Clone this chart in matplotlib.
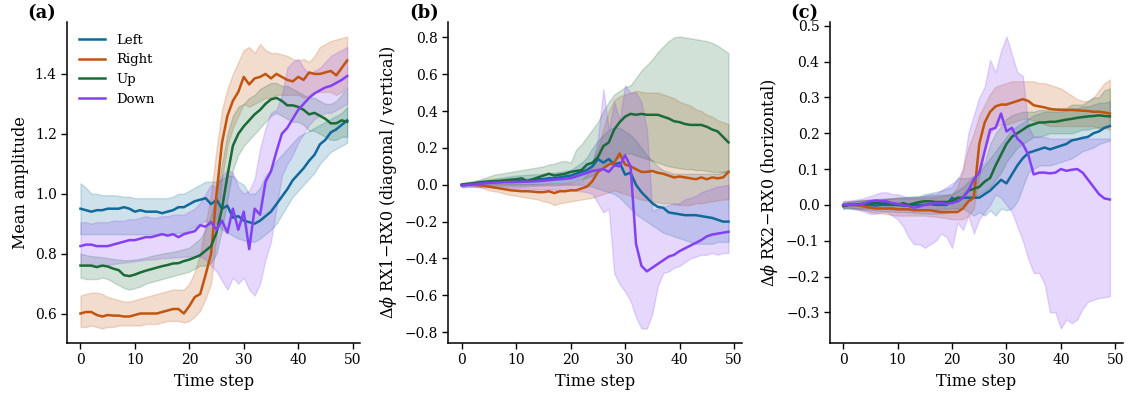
import numpy as np
import matplotlib
matplotlib.use('Agg')
import matplotlib.pyplot as plt

plt.rcParams['font.family'] = ['DejaVu Serif']
plt.rcParams['mathtext.fontset'] = 'dejavuserif'

steps = np.arange(50)
labels = ['Left', 'Right', 'Up', 'Down']
colors = ['#11699b', '#c1540e', '#1b6b38', '#8440f5']

# (a) mean amplitude
amp_left = [0.950, 0.945, 0.940, 0.945, 0.945, 0.950, 0.950, 0.950, 0.955, 0.950,
            0.940, 0.945, 0.940, 0.940, 0.940, 0.935, 0.940, 0.945, 0.955, 0.955,
            0.965, 0.975, 0.980, 0.985, 0.965, 0.980, 0.950, 0.960, 0.920, 0.925,
            0.910, 0.905, 0.900, 0.910, 0.925, 0.940, 0.965, 0.990, 1.015, 1.045,
            1.065, 1.085, 1.110, 1.130, 1.165, 1.180, 1.205, 1.215, 1.230, 1.245]
amp_left_lo = [0.865, 0.865, 0.865, 0.865, 0.865, 0.865, 0.865, 0.865, 0.865, 0.865,
               0.865, 0.865, 0.865, 0.865, 0.865, 0.865, 0.865, 0.865, 0.870, 0.870,
               0.880, 0.890, 0.900, 0.910, 0.900, 0.900, 0.880, 0.870, 0.860, 0.850,
               0.845, 0.840, 0.840, 0.850, 0.865, 0.880, 0.900, 0.930, 0.960, 0.990,
               1.010, 1.030, 1.050, 1.070, 1.100, 1.120, 1.140, 1.150, 1.160, 1.170]
amp_left_hi = [1.035, 1.020, 1.000, 1.000, 0.995, 0.995, 0.995, 0.993, 0.990, 0.990,
               0.985, 0.985, 0.985, 0.985, 0.985, 0.985, 0.985, 0.990, 1.000, 1.000,
               1.010, 1.020, 1.030, 1.040, 1.040, 1.040, 1.050, 1.060, 1.060, 1.040,
               1.030, 1.000, 1.000, 1.020, 1.060, 1.080, 1.110, 1.130, 1.150, 1.170,
               1.190, 1.200, 1.210, 1.220, 1.230, 1.240, 1.250, 1.260, 1.270, 1.290]
amp_right = [0.600, 0.605, 0.605, 0.595, 0.590, 0.595, 0.593, 0.593, 0.590, 0.590,
             0.595, 0.600, 0.600, 0.600, 0.600, 0.605, 0.610, 0.615, 0.615, 0.600,
             0.625, 0.655, 0.665, 0.730, 0.800, 1.000, 1.170, 1.260, 1.310, 1.340,
             1.390, 1.365, 1.385, 1.390, 1.400, 1.385, 1.400, 1.390, 1.380, 1.375,
             1.390, 1.380, 1.405, 1.400, 1.400, 1.405, 1.410, 1.395, 1.420, 1.445]
amp_right_lo = [0.555, 0.555, 0.560, 0.555, 0.550, 0.555, 0.555, 0.560, 0.560, 0.560,
                0.560, 0.560, 0.565, 0.565, 0.565, 0.570, 0.575, 0.575, 0.575, 0.570,
                0.575, 0.590, 0.610, 0.650, 0.700, 0.860, 1.050, 1.160, 1.220, 1.260,
                1.300, 1.290, 1.300, 1.310, 1.320, 1.320, 1.330, 1.330, 1.330, 1.330,
                1.330, 1.320, 1.330, 1.340, 1.340, 1.340, 1.340, 1.330, 1.340, 1.370]
amp_right_hi = [0.660, 0.665, 0.670, 0.670, 0.665, 0.655, 0.650, 0.645, 0.640, 0.640,
                0.645, 0.650, 0.655, 0.660, 0.665, 0.670, 0.675, 0.680, 0.680, 0.680,
                0.700, 0.740, 0.800, 0.900, 1.000, 1.150, 1.280, 1.350, 1.400, 1.440,
                1.480, 1.490, 1.470, 1.500, 1.480, 1.470, 1.470, 1.465, 1.460, 1.450,
                1.445, 1.450, 1.440, 1.460, 1.490, 1.500, 1.510, 1.515, 1.520, 1.525]
amp_up = [0.760, 0.760, 0.760, 0.755, 0.760, 0.757, 0.750, 0.745, 0.728, 0.725,
          0.730, 0.737, 0.743, 0.748, 0.753, 0.758, 0.762, 0.767, 0.768, 0.775,
          0.780, 0.787, 0.795, 0.810, 0.825, 0.870, 0.950, 1.060, 1.160, 1.200,
          1.225, 1.245, 1.265, 1.280, 1.300, 1.315, 1.320, 1.310, 1.295, 1.295,
          1.290, 1.280, 1.265, 1.270, 1.260, 1.250, 1.235, 1.235, 1.245, 1.240]
amp_up_lo = [0.720, 0.715, 0.715, 0.715, 0.720, 0.715, 0.705, 0.695, 0.685, 0.680,
             0.685, 0.690, 0.700, 0.705, 0.710, 0.715, 0.720, 0.725, 0.730, 0.735,
             0.740, 0.750, 0.760, 0.760, 0.770, 0.800, 0.880, 0.980, 1.080, 1.130,
             1.160, 1.180, 1.200, 1.220, 1.240, 1.260, 1.270, 1.260, 1.250, 1.240,
             1.240, 1.230, 1.210, 1.210, 1.200, 1.190, 1.180, 1.180, 1.190, 1.190]
amp_up_hi = [0.800, 0.795, 0.792, 0.790, 0.788, 0.785, 0.782, 0.780, 0.778, 0.778,
             0.780, 0.783, 0.787, 0.792, 0.796, 0.800, 0.803, 0.806, 0.810, 0.815,
             0.820, 0.835, 0.850, 0.880, 0.930, 1.000, 1.100, 1.200, 1.260, 1.290,
             1.300, 1.320, 1.330, 1.350, 1.360, 1.370, 1.370, 1.360, 1.360, 1.350,
             1.340, 1.330, 1.320, 1.320, 1.310, 1.300, 1.300, 1.310, 1.330, 1.360]
amp_down = [0.825, 0.830, 0.830, 0.825, 0.825, 0.825, 0.830, 0.835, 0.840, 0.845,
            0.845, 0.850, 0.855, 0.855, 0.860, 0.865, 0.860, 0.865, 0.855, 0.865,
            0.870, 0.875, 0.895, 0.890, 0.905, 0.880, 0.910, 0.870, 0.950, 0.880,
            0.940, 0.815, 0.950, 0.930, 1.040, 1.075, 1.140, 1.200, 1.220, 1.250,
            1.280, 1.300, 1.320, 1.335, 1.345, 1.355, 1.360, 1.370, 1.380, 1.393]
amp_down_lo = [0.760, 0.760, 0.758, 0.758, 0.760, 0.762, 0.765, 0.768, 0.770, 0.772,
               0.775, 0.777, 0.780, 0.780, 0.782, 0.785, 0.785, 0.787, 0.788, 0.790,
               0.790, 0.790, 0.790, 0.780, 0.760, 0.740, 0.710, 0.680, 0.720, 0.700,
               0.720, 0.680, 0.660, 0.700, 0.780, 0.840, 0.950, 1.060, 1.100, 1.130,
               1.170, 1.200, 1.230, 1.250, 1.260, 1.270, 1.270, 1.280, 1.290, 1.300]
amp_down_hi = [0.905, 0.905, 0.900, 0.905, 0.905, 0.905, 0.910, 0.910, 0.910, 0.915,
               0.915, 0.920, 0.925, 0.920, 0.920, 0.925, 0.925, 0.930, 0.930, 0.930,
               0.940, 0.950, 0.970, 1.000, 1.030, 1.020, 1.060, 1.080, 1.070, 1.020,
               1.000, 1.010, 1.050, 1.150, 1.220, 1.270, 1.280, 1.330, 1.420, 1.440,
               1.450, 1.420, 1.400, 1.410, 1.420, 1.440, 1.460, 1.470, 1.480, 1.490]

# (b) phase difference RX1 - RX0
ph1_left = [0.000, 0.000, 0.005, 0.008, 0.010, 0.012, 0.015, 0.017, 0.020, 0.020,
            0.020, 0.020, 0.020, 0.025, 0.030, 0.030, 0.035, 0.035, 0.040, 0.045,
            0.050, 0.060, 0.070, 0.080, 0.100, 0.140, 0.120, 0.140, 0.110, 0.120,
            0.055, 0.065, 0.000, -0.040, -0.070, -0.100, -0.120, -0.125, -0.150, -0.155,
            -0.160, -0.165, -0.165, -0.165, -0.170, -0.175, -0.180, -0.190, -0.200, -0.200]
ph1_left_lo = [-0.010, -0.010, -0.010, -0.010, -0.010, -0.010, -0.010, -0.010, -0.010, -0.010,
               -0.010, -0.010, -0.008, -0.006, -0.005, -0.004, -0.003, -0.002, -0.001, 0.000,
               0.000, 0.000, 0.000, -0.005, -0.010, -0.020, -0.030, -0.040, -0.050, -0.070,
               -0.100, -0.130, -0.160, -0.180, -0.200, -0.220, -0.240, -0.260, -0.270, -0.280,
               -0.290, -0.300, -0.310, -0.320, -0.320, -0.320, -0.320, -0.310, -0.310, -0.310]
ph1_left_hi = [0.010, 0.015, 0.020, 0.024, 0.027, 0.030, 0.034, 0.038, 0.042, 0.046,
               0.050, 0.052, 0.054, 0.056, 0.058, 0.060, 0.063, 0.066, 0.070, 0.075,
               0.080, 0.100, 0.120, 0.150, 0.200, 0.240, 0.270, 0.300, 0.310, 0.310,
               0.290, 0.270, 0.240, 0.200, 0.160, 0.130, 0.100, 0.080, 0.070, 0.060,
               0.060, 0.060, 0.060, 0.060, 0.060, 0.060, 0.060, 0.060, 0.070, 0.080]
ph1_right = [0.000, 0.000, 0.000, -0.002, -0.005, -0.010, -0.015, -0.020, -0.025, -0.030,
             -0.032, -0.035, -0.035, -0.037, -0.040, -0.040, -0.035, -0.045, -0.035, -0.035,
             -0.030, -0.030, -0.020, -0.010, 0.020, 0.070, 0.090, 0.110, 0.120, 0.170,
             0.110, 0.100, 0.085, 0.070, 0.070, 0.075, 0.065, 0.060, 0.050, 0.040,
             0.045, 0.040, 0.035, 0.030, 0.040, 0.030, 0.040, 0.035, 0.040, 0.070]
ph1_right_lo = [0.000, -0.003, -0.006, -0.010, -0.020, -0.030, -0.035, -0.040, -0.050, -0.055,
                -0.060, -0.065, -0.070, -0.075, -0.080, -0.090, -0.095, -0.110, -0.100, -0.095,
                -0.090, -0.085, -0.080, -0.075, -0.070, -0.060, -0.050, -0.040, -0.030, -0.040,
                -0.050, -0.060, -0.070, -0.080, -0.085, -0.090, -0.095, -0.100, -0.100, -0.105,
                -0.110, -0.110, -0.110, -0.100, -0.100, -0.095, -0.090, -0.085, -0.080, -0.080]
ph1_right_hi = [0.005, 0.005, 0.006, 0.007, 0.008, 0.008, 0.008, 0.008, 0.008, 0.008,
                0.006, 0.005, 0.004, 0.003, 0.002, 0.002, 0.003, 0.002, 0.003, 0.004,
                0.005, 0.010, 0.020, 0.060, 0.120, 0.200, 0.300, 0.400, 0.460, 0.480,
                0.490, 0.500, 0.510, 0.505, 0.500, 0.500, 0.500, 0.490, 0.480, 0.470,
                0.450, 0.440, 0.430, 0.410, 0.400, 0.380, 0.370, 0.350, 0.340, 0.330]
ph1_up = [0.000, 0.005, 0.008, 0.012, 0.015, 0.018, 0.020, 0.022, 0.025, 0.028,
          0.030, 0.035, 0.020, 0.030, 0.040, 0.050, 0.060, 0.050, 0.055, 0.060,
          0.070, 0.075, 0.080, 0.110, 0.120, 0.150, 0.210, 0.230, 0.300, 0.340,
          0.370, 0.385, 0.380, 0.385, 0.380, 0.380, 0.380, 0.370, 0.360, 0.345,
          0.340, 0.330, 0.325, 0.325, 0.325, 0.315, 0.300, 0.290, 0.260, 0.230]
ph1_up_lo = [-0.010, -0.005, 0.000, 0.000, 0.000, 0.000, 0.000, 0.000, 0.000, 0.000,
             0.000, 0.001, 0.002, 0.003, 0.004, 0.005, 0.006, 0.007, 0.008, 0.009,
             0.010, 0.020, 0.030, 0.040, 0.050, 0.070, 0.090, 0.110, 0.130, 0.150,
             0.170, 0.170, 0.160, 0.150, 0.140, 0.130, 0.120, 0.110, 0.100, 0.095,
             0.090, 0.085, 0.085, 0.080, 0.080, 0.075, 0.070, 0.070, 0.070, 0.070]
ph1_up_hi = [0.010, 0.010, 0.015, 0.025, 0.035, 0.045, 0.055, 0.060, 0.065, 0.070,
             0.075, 0.080, 0.085, 0.090, 0.095, 0.100, 0.110, 0.115, 0.125, 0.130,
             0.120, 0.190, 0.220, 0.260, 0.300, 0.340, 0.400, 0.450, 0.490, 0.510,
             0.530, 0.540, 0.580, 0.620, 0.650, 0.680, 0.720, 0.750, 0.780, 0.800,
             0.805, 0.800, 0.795, 0.790, 0.785, 0.780, 0.770, 0.755, 0.735, 0.715]
ph1_down = [-0.005, 0.000, 0.002, 0.005, 0.008, 0.010, 0.012, 0.013, 0.015, 0.015,
            0.015, 0.016, 0.017, 0.018, 0.020, 0.022, 0.025, 0.028, 0.030, 0.033,
            0.036, 0.045, 0.055, 0.065, 0.075, 0.080, 0.085, 0.070, 0.105, 0.100,
            0.160, 0.100, -0.320, -0.440, -0.470, -0.450, -0.430, -0.410, -0.390, -0.380,
            -0.360, -0.345, -0.330, -0.315, -0.300, -0.280, -0.270, -0.265, -0.260, -0.255]
ph1_down_lo = [-0.015, -0.012, -0.012, -0.013, -0.014, -0.015, -0.016, -0.017, -0.018, -0.019,
               -0.020, -0.021, -0.022, -0.023, -0.024, -0.025, -0.026, -0.027, -0.028, -0.029,
               -0.030, -0.033, -0.036, -0.040, -0.050, -0.100, -0.150, -0.130, -0.480, -0.540,
               -0.580, -0.630, -0.720, -0.780, -0.780, -0.700, -0.550, -0.480, -0.470, -0.450,
               -0.440, -0.420, -0.400, -0.390, -0.380, -0.380, -0.370, -0.380, -0.370, -0.370]
ph1_down_hi = [0.005, 0.010, 0.012, 0.015, 0.018, 0.020, 0.022, 0.024, 0.026, 0.028,
               0.030, 0.032, 0.034, 0.036, 0.038, 0.040, 0.043, 0.046, 0.049, 0.052,
               0.055, 0.065, 0.080, 0.100, 0.120, 0.250, 0.520, 0.300, 0.450, 0.350,
               0.540, 0.500, 0.500, 0.450, 0.300, -0.140, -0.130, -0.120, -0.110, -0.100,
               -0.100, -0.080, -0.070, -0.060, -0.040, -0.030, -0.020, -0.010, -0.005, 0.000]

# (c) phase difference RX2 - RX0
ph2_left = [-0.003, 0.000, 0.000, 0.000, 0.000, 0.000, -0.002, 0.000, 0.000, 0.000,
            0.000, -0.002, -0.002, 0.000, 0.000, 0.000, 0.002, 0.000, 0.000, 0.000,
            0.020, 0.010, 0.020, 0.020, 0.020, 0.020, 0.030, 0.040, 0.055, 0.070,
            0.060, 0.085, 0.110, 0.130, 0.145, 0.150, 0.155, 0.160, 0.155, 0.160,
            0.165, 0.170, 0.180, 0.183, 0.187, 0.190, 0.200, 0.205, 0.215, 0.220]
ph2_left_lo = [-0.010, -0.010, -0.012, -0.013, -0.014, -0.015, -0.016, -0.017, -0.018, -0.019,
               -0.020, -0.020, -0.021, -0.022, -0.023, -0.024, -0.025, -0.025, -0.024, -0.022,
               -0.020, -0.010, -0.010, -0.020, -0.030, -0.020, -0.030, -0.015, -0.030, -0.010,
               -0.015, -0.010, 0.010, 0.050, 0.090, 0.100, 0.110, 0.110, 0.110, 0.115,
               0.120, 0.125, 0.130, 0.140, 0.150, 0.155, 0.160, 0.170, 0.175, 0.180]
ph2_left_hi = [0.010, 0.010, 0.011, 0.012, 0.013, 0.014, 0.015, 0.016, 0.017, 0.018,
               0.020, 0.021, 0.022, 0.023, 0.024, 0.030, 0.033, 0.036, 0.040, 0.045,
               0.050, 0.075, 0.075, 0.075, 0.080, 0.090, 0.110, 0.130, 0.150, 0.170,
               0.190, 0.210, 0.220, 0.230, 0.240, 0.250, 0.255, 0.260, 0.260, 0.260,
               0.260, 0.265, 0.270, 0.270, 0.275, 0.275, 0.280, 0.285, 0.285, 0.290]
ph2_right = [0.000, 0.000, 0.000, -0.002, -0.005, -0.008, -0.010, -0.010, -0.010, -0.010,
             -0.012, -0.012, -0.012, -0.015, -0.015, -0.015, -0.015, -0.018, -0.020, -0.020,
             -0.020, -0.020, -0.010, 0.010, 0.020, 0.170, 0.230, 0.260, 0.275, 0.280,
             0.280, 0.285, 0.290, 0.295, 0.290, 0.278, 0.275, 0.272, 0.268, 0.266,
             0.265, 0.265, 0.265, 0.264, 0.263, 0.262, 0.260, 0.260, 0.258, 0.255]
ph2_right_lo = [-0.005, -0.008, -0.010, -0.012, -0.015, -0.020, -0.022, -0.024, -0.026, -0.028,
                -0.030, -0.030, -0.030, -0.030, -0.030, -0.030, -0.032, -0.033, -0.035, -0.037,
                -0.040, -0.040, -0.040, -0.030, -0.010, 0.080, 0.150, 0.200, 0.220, 0.225,
                0.225, 0.230, 0.235, 0.240, 0.240, 0.235, 0.230, 0.225, 0.220, 0.220,
                0.220, 0.220, 0.220, 0.220, 0.220, 0.220, 0.220, 0.215, 0.215, 0.210]
ph2_right_hi = [0.005, 0.008, 0.010, 0.012, 0.013, 0.014, 0.015, 0.016, 0.017, 0.018,
                0.018, 0.018, 0.018, 0.018, 0.019, 0.020, 0.020, 0.022, 0.024, 0.027,
                0.030, 0.050, 0.100, 0.160, 0.200, 0.250, 0.280, 0.310, 0.330, 0.335,
                0.340, 0.345, 0.345, 0.345, 0.345, 0.345, 0.340, 0.340, 0.335, 0.330,
                0.325, 0.315, 0.305, 0.295, 0.290, 0.290, 0.300, 0.320, 0.340, 0.350]
ph2_up = [-0.003, 0.000, 0.000, 0.002, 0.004, 0.005, 0.005, 0.005, 0.004, 0.002,
          0.000, 0.005, 0.000, 0.004, 0.008, 0.010, 0.010, 0.008, 0.008, 0.008,
          0.010, 0.020, 0.020, 0.040, 0.045, 0.050, 0.065, 0.075, 0.110, 0.140,
          0.170, 0.190, 0.200, 0.210, 0.220, 0.225, 0.230, 0.230, 0.232, 0.232,
          0.235, 0.238, 0.240, 0.243, 0.245, 0.247, 0.248, 0.250, 0.248, 0.247]
ph2_up_lo = [-0.010, -0.010, -0.010, -0.010, -0.010, -0.010, -0.010, -0.010, -0.011, -0.012,
             -0.013, -0.013, -0.014, -0.014, -0.013, -0.012, -0.012, -0.012, -0.011, -0.011,
             -0.010, -0.010, 0.000, 0.010, 0.020, 0.030, 0.040, 0.050, 0.070, 0.090,
             0.120, 0.140, 0.160, 0.170, 0.180, 0.190, 0.190, 0.195, 0.200, 0.200,
             0.200, 0.200, 0.200, 0.205, 0.210, 0.210, 0.215, 0.215, 0.220, 0.220]
ph2_up_hi = [0.005, 0.008, 0.010, 0.012, 0.014, 0.015, 0.016, 0.017, 0.018, 0.019,
             0.020, 0.021, 0.022, 0.023, 0.024, 0.025, 0.026, 0.027, 0.028, 0.029,
             0.030, 0.040, 0.050, 0.065, 0.080, 0.100, 0.120, 0.170, 0.200, 0.220,
             0.240, 0.250, 0.255, 0.260, 0.260, 0.260, 0.265, 0.265, 0.265, 0.270,
             0.270, 0.270, 0.280, 0.280, 0.280, 0.290, 0.300, 0.300, 0.320, 0.325]
ph2_down = [0.000, 0.000, 0.000, 0.000, 0.005, 0.010, 0.012, 0.010, 0.010, 0.005,
            0.003, 0.000, -0.003, -0.008, -0.005, 0.000, 0.003, 0.005, 0.005, 0.003,
            0.005, 0.010, 0.020, 0.040, 0.070, 0.090, 0.150, 0.210, 0.215, 0.255,
            0.205, 0.215, 0.185, 0.170, 0.140, 0.085, 0.090, 0.090, 0.088, 0.090,
            0.100, 0.095, 0.098, 0.100, 0.090, 0.070, 0.050, 0.030, 0.018, 0.015]
ph2_down_lo = [-0.010, -0.005, -0.010, -0.015, -0.020, -0.025, -0.025, -0.020, -0.020, -0.030,
               -0.040, -0.060, -0.090, -0.110, -0.110, -0.120, -0.110, -0.100, -0.080, -0.090,
               -0.120, -0.050, -0.070, -0.030, -0.080, -0.040, -0.020, 0.000, 0.030, 0.020,
               0.000, -0.020, -0.060, -0.100, -0.150, -0.190, -0.190, -0.220, -0.300, -0.300,
               -0.345, -0.320, -0.330, -0.320, -0.290, -0.270, -0.265, -0.260, -0.258, -0.255]
ph2_down_hi = [0.010, 0.012, 0.014, 0.016, 0.020, 0.025, 0.030, 0.035, 0.035, 0.030,
               0.030, 0.025, 0.020, 0.020, 0.020, 0.025, 0.030, 0.030, 0.040, 0.050,
               0.060, 0.070, 0.100, 0.200, 0.250, 0.300, 0.330, 0.405, 0.370, 0.430,
               0.470, 0.420, 0.370, 0.360, 0.220, 0.190, 0.190, 0.190, 0.185, 0.185,
               0.185, 0.185, 0.185, 0.185, 0.185, 0.185, 0.185, 0.185, 0.185, 0.185]

panels = [
    ('(a)', 'Mean amplitude',
     [(amp_left, amp_left_lo, amp_left_hi), (amp_right, amp_right_lo, amp_right_hi),
      (amp_up, amp_up_lo, amp_up_hi), (amp_down, amp_down_lo, amp_down_hi)],
     np.arange(0.6, 1.41, 0.2)),
    ('(b)', r'$\Delta\phi$ RX1$-$RX0 (diagonal / vertical)',
     [(ph1_left, ph1_left_lo, ph1_left_hi), (ph1_right, ph1_right_lo, ph1_right_hi),
      (ph1_up, ph1_up_lo, ph1_up_hi), (ph1_down, ph1_down_lo, ph1_down_hi)],
     np.arange(-0.8, 0.81, 0.2)),
    ('(c)', r'$\Delta\phi$ RX2$-$RX0 (horizontal)',
     [(ph2_left, ph2_left_lo, ph2_left_hi), (ph2_right, ph2_right_lo, ph2_right_hi),
      (ph2_up, ph2_up_lo, ph2_up_hi), (ph2_down, ph2_down_lo, ph2_down_hi)],
     np.arange(-0.3, 0.51, 0.1)),
]


def tick_text(v):
    if abs(v) < 1e-9:
        return '0.0'
    return ('%.1f' % v).replace('-', '\u2212')


def main():
    fig, axes = plt.subplots(1, 3, figsize=(11.38, 3.98), dpi=100)
    fig.subplots_adjust(left=0.059, right=0.987, bottom=0.138, top=0.945, wspace=0.30)

    for ax, (tag, ylabel, series, yticks) in zip(axes, panels):
        for (mean, lo, hi), lab, col in zip(series, labels, colors):
            ax.fill_between(steps, lo, hi, color=col, alpha=0.2)
            ax.plot(steps, mean, color=col, lw=1.8, label=lab)
        ax.set_xticks(np.arange(0, 51, 10))
        ax.set_yticks(yticks)
        ax.set_yticklabels([tick_text(v) for v in yticks])
        ax.tick_params(labelsize=10, length=4, width=1)
        ax.set_xlabel('Time step', fontsize=11.5)
        ax.set_ylabel(ylabel, fontsize=11.5)
        for side in ('top', 'right'):
            ax.spines[side].set_visible(False)
        for side in ('left', 'bottom'):
            ax.spines[side].set_linewidth(1.1)
        ax.text(-0.135, 1.013, tag, transform=ax.transAxes, fontsize=13,
                fontweight='bold', va='baseline', ha='left')

    axes[0].legend(loc='upper left', frameon=False, fontsize=9.5)
    fig.savefig('out.png')


if __name__ == '__main__':
    main()
